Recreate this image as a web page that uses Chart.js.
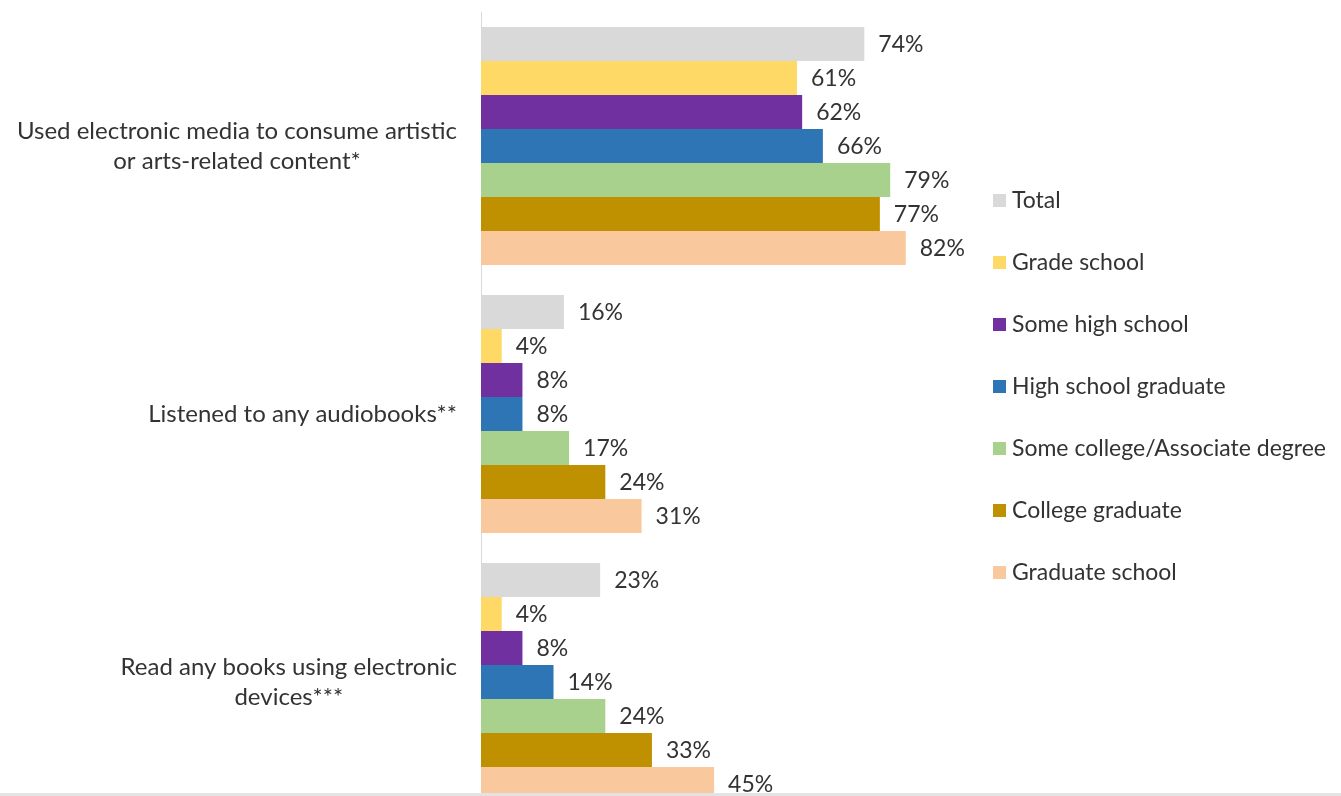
<!DOCTYPE html>
<html>
<head>
<meta charset="utf-8">
<script src="https://cdn.jsdelivr.net/npm/chart.js@4.4.1/dist/chart.umd.min.js"></script>
<style>
  body { margin: 0; background: #fff; overflow: hidden; width: 1341px; height: 796px; position: relative; }
  #wrap { position: absolute; left: 0; top: 0; width: 1341px; height: 816px; }
  #legend { position: absolute; left: 993px; top: 0; font-family: Lato, sans-serif; font-size: 23px; color: #333; }
  #legend .item { position: absolute; left: 0; white-space: nowrap; height: 24px; line-height: 24px; }
  #legend .box { display: inline-block; width: 13px; height: 13px; vertical-align: middle; margin-right: 6px; position: relative; top: -2px; }
  #bottomLine { position: absolute; left: 0; top: 793px; width: 1341px; height: 3px; background: #e3e3e3; }
</style>
</head>
<body>
<div id="wrap"><canvas id="chart" width="1341" height="816"></canvas></div>
<div id="legend"></div>
<div id="bottomLine"></div>
<script>
// Data
const categories = [
  ['Used electronic media to consume artistic', 'or arts-related content*'],
  ['Listened to any audiobooks**'],
  ['Read any books using electronic', 'devices***']
];
const seriesNames = ['Total', 'Grade school', 'Some high school', 'High school graduate',
  'Some college/Associate degree', 'College graduate', 'Graduate school'];
const total = [74, 16, 23];
const gradeSchool = [61, 4, 4];
const someHighSchool = [62, 8, 8];
const highSchoolGrad = [66, 8, 14];
const someCollege = [79, 17, 24];
const collegeGrad = [77, 24, 33];
const graduateSchool = [82, 31, 45];

const seriesValues = [total, gradeSchool, someHighSchool, highSchoolGrad, someCollege, collegeGrad, graduateSchool];
const colors = ['#D9D9D9', '#FFD966', '#7030A0', '#2E75B6', '#A9D18E', '#BF9000', '#F9C89D'];

const textColor = '#333';
const fontFamily = 'Lato, sans-serif';

// Category labels: block right-aligned, lines centred within the block
const categoryLabels = {
  id: 'categoryLabels',
  afterDraw(chart) {
    const ctx = chart.ctx;
    const yScale = chart.scales.y;
    const right = chart.chartArea.left - 24;
    const lineH = 30;
    ctx.save();
    ctx.font = '24px ' + fontFamily;
    ctx.fillStyle = textColor;
    ctx.textAlign = 'center';
    ctx.textBaseline = 'middle';
    categories.forEach((lines, i) => {
      const y = yScale.getPixelForValue(i);
      const widest = Math.max(...lines.map(l => ctx.measureText(l).width));
      const cx = right - widest / 2;
      lines.forEach((line, j) => {
        ctx.fillText(line, cx, y + (j - (lines.length - 1) / 2) * lineH);
      });
    });
    ctx.restore();
  }
};

// Value labels at bar ends
const valueLabels = {
  id: 'valueLabels',
  afterDatasetsDraw(chart) {
    const ctx = chart.ctx;
    ctx.save();
    ctx.font = '23px ' + fontFamily;
    ctx.fillStyle = textColor;
    ctx.textAlign = 'left';
    ctx.textBaseline = 'middle';
    chart.data.datasets.forEach((ds, d) => {
      chart.getDatasetMeta(d).data.forEach((bar, i) => {
        ctx.fillText(ds.data[i] + '%', bar.x + 14, bar.y + 1);
      });
    });
    ctx.restore();
  }
};

const chart = new Chart(document.getElementById('chart'), {
  type: 'bar',
  data: {
    labels: categories.map(c => c.join(' ')),
    datasets: seriesNames.map((name, k) => ({
      label: name,
      data: seriesValues[k],
      backgroundColor: colors[k],
      borderWidth: 0,
      categoryPercentage: 0.888,
      barPercentage: 1
    }))
  },
  options: {
    indexAxis: 'y',
    responsive: false,
    animation: false,
    devicePixelRatio: 1,
    layout: { padding: { top: 12, right: 342, bottom: 0, left: 0 } },
    scales: {
      x: { display: false, min: 0, max: 100 },
      y: {
        grid: { display: false },
        border: { display: true, color: '#D9D9D9', width: 1 },
        ticks: { display: false },
        afterFit(scale) { scale.width = 481; }
      }
    },
    plugins: {
      legend: { display: false },
      tooltip: { enabled: false }
    }
  },
  plugins: [categoryLabels, valueLabels]
});

// HTML legend from the chart's datasets
const legendEl = document.getElementById('legend');
chart.data.datasets.forEach((ds, k) => {
  const item = document.createElement('div');
  item.className = 'item';
  item.style.top = (199 - 12 + k * 62) + 'px';
  const box = document.createElement('span');
  box.className = 'box';
  box.style.background = ds.backgroundColor;
  item.appendChild(box);
  item.appendChild(document.createTextNode(ds.label));
  legendEl.appendChild(item);
});
</script>
</body>
</html>
